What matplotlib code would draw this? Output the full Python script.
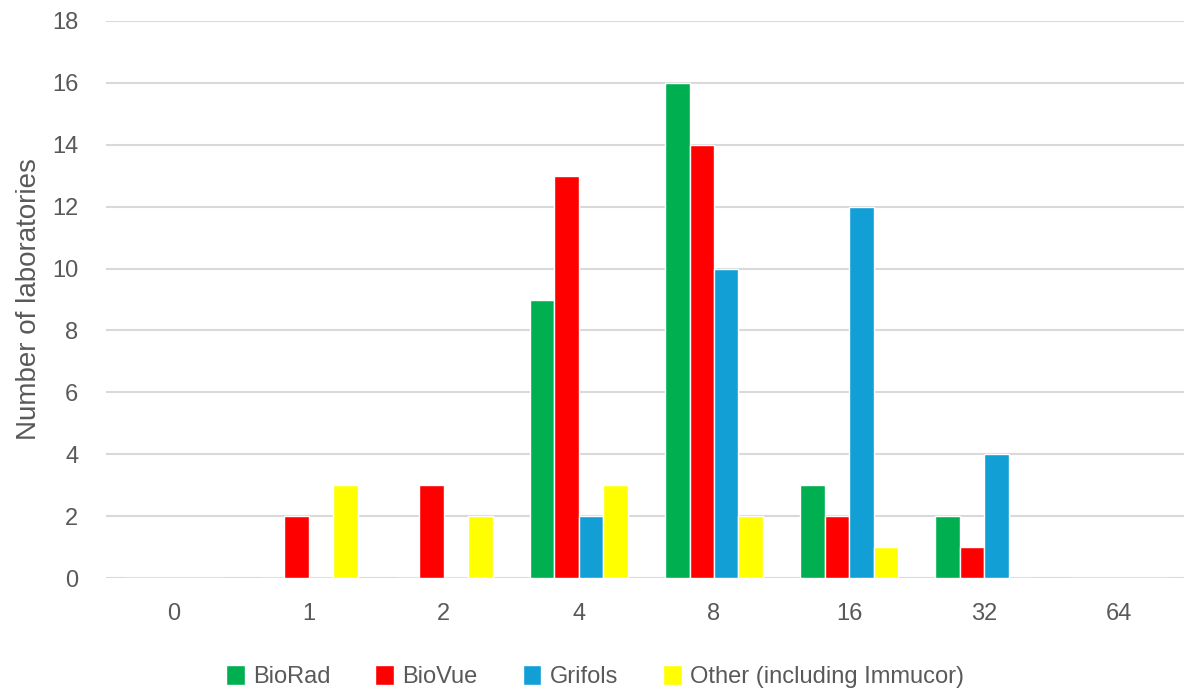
import matplotlib
matplotlib.use("Agg")
import matplotlib.pyplot as plt
import numpy as np

categories = ["0", "1", "2", "4", "8", "16", "32", "64"]
series_names = ["BioRad", "BioVue", "Grifols", "Other (including Immucor)"]
biorad = [0, 0, 0, 9, 16, 3, 2, 0]
biovue = [0, 2, 3, 13, 14, 2, 1, 0]
grifols = [0, 0, 0, 2, 10, 12, 4, 0]
other = [0, 3, 2, 3, 2, 1, 0, 0]
colors = ["#00B050", "#FF0000", "#119FD6", "#FFFF00"]
yticks = [0, 2, 4, 6, 8, 10, 12, 14, 16, 18]

plt.rcParams['font.family'] = ['Liberation Sans', 'DejaVu Sans']
fig = plt.figure(figsize=(11.84, 6.95), dpi=100)
ax = fig.add_axes([0.0895, 0.1683, 0.913, 0.8015])

x = np.arange(len(categories))
slot = 0.181
data = [biorad, biovue, grifols, other]
for i, (vals, c, name) in enumerate(zip(data, colors, series_names)):
    ax.bar(x + (i - 1.5) * slot, vals, width=slot, color=c, edgecolor="white",
           linewidth=1.0, label=name, zorder=3)

ax.set_xlim(-0.5, len(categories) - 0.5)
ax.set_ylim(0, 18)
ax.set_yticks(yticks)
ax.set_xticks(x)
ax.set_xticklabels(categories)
ax.grid(axis="y", color="#D9D9D9", linewidth=1.5, zorder=0)
ax.set_axisbelow(True)
for s in ax.spines.values():
    s.set_visible(False)
ax.tick_params(axis="both", length=0, labelsize=17, colors="#595959")
ax.tick_params(axis="x", pad=18)
ax.tick_params(axis="y", pad=20)
ax.set_ylabel("Number of laboratories", fontsize=20, color="#595959", labelpad=7)

leg = fig.legend(*ax.get_legend_handles_labels(), loc="center", bbox_to_anchor=(0.5025, 0.026),
                 ncol=4, frameon=False, fontsize=17, handlelength=0.8, handleheight=0.9,
                 handletextpad=0.35, columnspacing=1.9, labelcolor="#595959",
                 borderpad=0, borderaxespad=0)

fig.savefig("out.png", dpi=100, facecolor="white")
